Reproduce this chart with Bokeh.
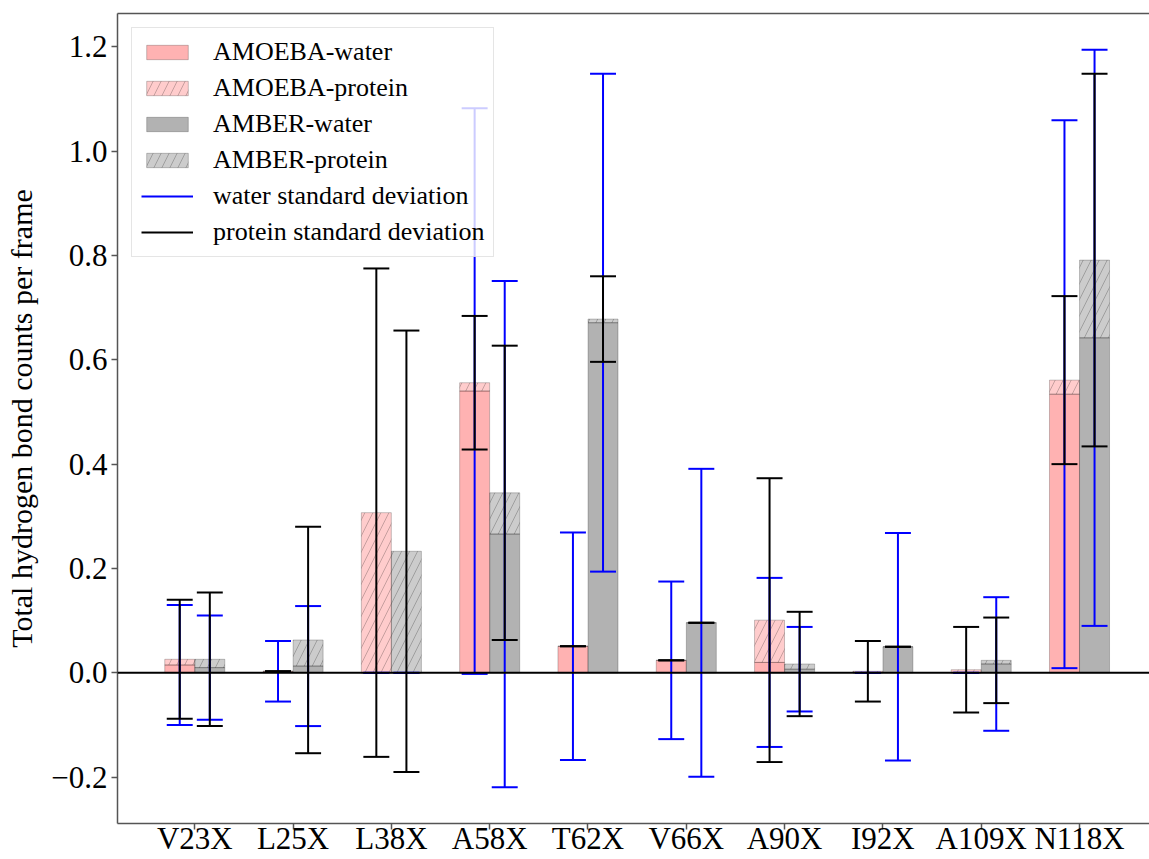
import numpy as np
from bokeh.plotting import figure
from bokeh.models import (ColumnDataSource, FixedTicker, CustomJSTickFormatter, Span,
                          Legend, LegendItem, LinearAxis, Range1d)
from bokeh.transform import dodge
from bokeh.embed import file_html
from bokeh.resources import INLINE

# ---------------- data ----------------
categories = ["V23X", "L25X", "L38X", "A58X", "T62X", "V66X", "A90X", "I92X", "A109X", "N118X"]

amoeba_water = [0.015, 0.003, 0.000, 0.540, 0.051, 0.024, 0.020, 0.000, 0.000, 0.534]
amoeba_protein = [0.011, 0.000, 0.307, 0.016, 0.000, 0.000, 0.081, 0.003, 0.006, 0.027]
amber_water = [0.010, 0.013, 0.000, 0.266, 0.671, 0.096, 0.007, 0.050, 0.017, 0.642]
amber_protein = [0.016, 0.050, 0.233, 0.079, 0.007, 0.000, 0.010, 0.000, 0.007, 0.149]

amoeba_water_sd = [0.115, 0.058, 0.000, 0.542, 0.218, 0.151, 0.162, 0.000, 0.000, 0.525]
amoeba_protein_sd = [0.114, 0.000, 0.468, 0.128, 0.000, 0.000, 0.272, 0.058, 0.082, 0.161]
amber_water_sd = [0.100, 0.115, 0.000, 0.485, 0.477, 0.295, 0.081, 0.218, 0.128, 0.552]
amber_protein_sd = [0.128, 0.217, 0.423, 0.282, 0.082, 0.000, 0.100, 0.000, 0.082, 0.357]

y_ticks = [-0.2, 0.0, 0.2, 0.4, 0.6, 0.8, 1.0, 1.2]

# ---------------- derived columns ----------------
idx = np.arange(len(categories))
aw = np.array(amoeba_water); ap = np.array(amoeba_protein)
bw = np.array(amber_water); bp = np.array(amber_protein)
atop = aw + ap
btop = bw + bp
src = ColumnDataSource(dict(
    x=idx, aw=aw, atop=atop, bw=bw, btop=btop,
    aw_lo=aw - np.array(amoeba_water_sd), aw_hi=aw + np.array(amoeba_water_sd),
    ap_lo=atop - np.array(amoeba_protein_sd), ap_hi=atop + np.array(amoeba_protein_sd),
    bw_lo=bw - np.array(amber_water_sd), bw_hi=bw + np.array(amber_water_sd),
    bp_lo=btop - np.array(amber_protein_sd), bp_hi=btop + np.array(amber_protein_sd),
))

FONT = "Liberation Serif"
OFF = 0.153      # bar offset from tick
BW = 0.305       # bar width
CAP = 0.132      # cap half width

p = figure(width=1149, height=859, output_backend="svg", toolbar_location=None,
           x_range=Range1d(-0.786, 9.712), y_range=Range1d(-0.2887, 1.2636),
           min_border_left=117, min_border_right=0, min_border_top=13, min_border_bottom=36)
p.outline_line_color = None
p.grid.visible = False
p.background_fill_color = "white"
p.border_fill_color = "white"

# ---------------- bars ----------------
common = dict(source=src, width=BW, line_color="black", line_alpha=0.22, line_width=1)
r_aw = p.vbar(x=dodge("x", -OFF), bottom=0, top="aw", fill_color="#ff0000", fill_alpha=0.3, **common)
r_ap = p.vbar(x=dodge("x", -OFF), bottom="aw", top="atop", fill_color="#ff0000", fill_alpha=0.2,
              hatch_pattern="/", hatch_color="black", hatch_alpha=0.22, hatch_scale=16, hatch_weight=1, **common)
r_bw = p.vbar(x=dodge("x", OFF), bottom=0, top="bw", fill_color="#000000", fill_alpha=0.3, **common)
r_bp = p.vbar(x=dodge("x", OFF), bottom="bw", top="btop", fill_color="#000000", fill_alpha=0.2,
              hatch_pattern="/", hatch_color="black", hatch_alpha=0.22, hatch_scale=16, hatch_weight=1, **common)

# ---------------- error bars ----------------
def errbar(off, lo, hi, color):
    st = p.segment(x0=dodge("x", off), y0=lo, x1=dodge("x", off), y1=hi, source=src,
                   line_color=color, line_width=2)
    for y in (lo, hi):
        p.segment(x0=dodge("x", off - CAP), y0=y, x1=dodge("x", off + CAP), y1=y, source=src,
                  line_color=color, line_width=2)
    return st

r_wsd = errbar(-OFF, "aw_lo", "aw_hi", "#0000ff")
errbar(OFF, "bw_lo", "bw_hi", "#0000ff")
r_psd = errbar(-OFF, "ap_lo", "ap_hi", "black")
errbar(OFF, "bp_lo", "bp_hi", "black")

p.add_layout(Span(location=0, dimension="width", line_color="black", line_width=2))

# ---------------- axes ----------------
xa = p.xaxis[0]
xa.ticker = FixedTicker(ticks=list(idx))
xa.major_label_overrides = {int(i): c for i, c in zip(idx, categories)}
ya = p.yaxis[0]
ya.ticker = FixedTicker(ticks=y_ticks)
ya.formatter = CustomJSTickFormatter(code='return (tick < -1e-9 ? "\\u2212" : "") + Math.abs(tick).toFixed(1);')
ya.axis_label = "Total hydrogen bond counts per frame"
ya.axis_label_text_font = FONT
ya.axis_label_text_font_size = "30px"
ya.axis_label_text_font_style = "normal"
ya.axis_label_text_color = "black"
ya.axis_label_standoff = 10
for ax in (xa, ya):
    ax.major_label_text_font = FONT
    ax.major_label_text_font_size = "31px"
    ax.major_label_text_color = "black"
    ax.major_tick_out = 6
    ax.major_tick_in = 0
    ax.minor_tick_out = 0
    ax.minor_tick_in = 0
    ax.axis_line_color = "#555555"
    ax.axis_line_width = 1.5
    ax.major_tick_line_color = "#555555"
    ax.major_tick_line_width = 1.5
xa.major_label_standoff = -9
ya.major_label_standoff = 4

top_ax = LinearAxis(ticker=FixedTicker(ticks=[]), axis_line_color="#555555", axis_line_width=1.5,
                    major_tick_out=0, major_tick_in=0, minor_tick_out=0, minor_tick_in=0,
                    major_label_text_font_size="0px")
p.add_layout(top_ax, "above")

# ---------------- legend ----------------
legend = Legend(items=[
    LegendItem(label="AMOEBA-water", renderers=[r_aw]),
    LegendItem(label="AMOEBA-protein", renderers=[r_ap]),
    LegendItem(label="AMBER-water", renderers=[r_bw]),
    LegendItem(label="AMBER-protein", renderers=[r_bp]),
    LegendItem(label="water standard deviation", renderers=[r_wsd]),
    LegendItem(label="protein standard deviation", renderers=[r_psd]),
], location="top_left")
legend.margin = 14
legend.padding = 9
legend.spacing = 6
legend.glyph_width = 52
legend.glyph_height = 18
legend.label_standoff = 20
legend.label_text_font = FONT
legend.label_text_font_size = "26px"
legend.label_text_color = "black"
legend.background_fill_alpha = 0.8
legend.border_line_color = "#cccccc"
legend.border_line_width = 1
p.add_layout(legend)

open("out.html", "w").write(file_html(p, INLINE))
